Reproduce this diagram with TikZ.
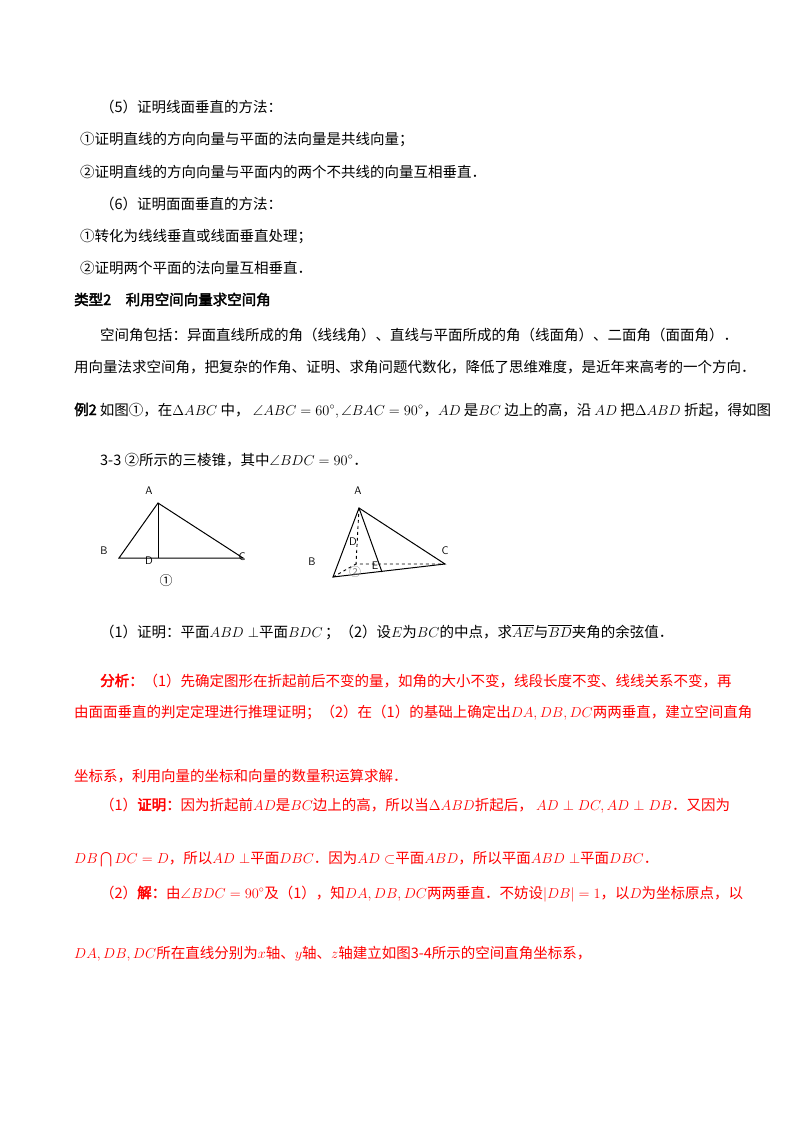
\documentclass[tikz,border=0pt]{standalone}
\usepackage{fontspec}
\usepackage{amssymb}
\setmainfont{Liberation Serif}
\newfontfamily\cjk[AutoFakeBold=2.5]{Noto Sans CJK SC}
\begin{document}
\begin{tikzpicture}[x=1pt,y=-1pt,
  tl/.style={anchor=base west,inner sep=0pt,font=\cjk\fontsize{14.5}{17}\selectfont},
  rl/.style={tl,text=red},
  lbl/.style={font=\sffamily\fontsize{11}{13}\selectfont,inner sep=0pt},
  edge/.style={line width=1pt},
  hid/.style={line width=0.9pt,dashed}]
\useasboundingbox (0,0) rectangle (800,1132);
\node[tl] (l1) at (100,112) {（5）证明线面垂直的方法：};
\node[tl] (l2) at (80,144) {①证明直线的方向向量与平面的法向量是共线向量；};
\node[tl] (l3) at (80,177) {②证明直线的方向向量与平面内的两个不共线的向量互相垂直．};
\node[tl] (l4) at (100,209) {（6）证明面面垂直的方法：};
\node[tl] (l5) at (80,241) {①转化为线线垂直或线面垂直处理；};
\node[tl] (l6) at (80,273) {②证明两个平面的法向量互相垂直．};
\node[tl] (l7) at (74,305) {\bfseries 类型2\quad 利用空间向量求空间角};
\node[tl] (l8) at (100,340) {空间角包括：异面直线所成的角（线线角）、直线与平面所成的角（线面角）、二面角（面面角）．};
\node[tl] (l9) at (74,372) {用向量法求空间角，把复杂的作角、证明、求角问题代数化，降低了思维难度，是近年来高考的一个方向．};
\node[tl] (l10) at (74,415) {\bfseries 例2\mdseries\ 如图①，在$\Delta ABC$ 中，\ $\angle ABC=60^\circ,\angle BAC=90^\circ$，$AD$ 是$BC$ 边上的高，沿 $AD$ 把$\Delta ABD$ 折起，得如图};
\node[tl] (l11) at (100,465) {3-3 ②所示的三棱锥，其中$\angle BDC=90^\circ$．};
% figure 1
\coordinate (A1) at (158,503); \coordinate (B1) at (119,558);
\coordinate (D1) at (158,558); \coordinate (C1) at (243,558);
\draw[edge] (A1) -- (B1) -- (C1) -- cycle; \draw[edge] (A1) -- (D1);
\node[lbl] (a1) at (149,491) {A}; \node[lbl] (b1) at (104,551) {B};
\node[lbl] (d1) at (149,561) {D}; \node[lbl] (c1) at (242,557) {C};
\node[font=\cjk\fontsize{13}{15}\selectfont,inner sep=0pt] (n1) at (166,581) {①};
% figure 2
\coordinate (A2) at (359,508); \coordinate (B2) at (333,577);
\coordinate (C2) at (445,564); \coordinate (D2) at (356,564);
\coordinate (E2) at (382,572);
\draw[edge] (A2) -- (B2) -- (C2) -- cycle; \draw[edge] (A2) -- (E2);
\draw[hid] (A2) -- (D2) -- (C2); \draw[hid] (B2) -- (D2);
\node[lbl] (a2) at (358,491) {A}; \node[lbl] (b2) at (312,562) {B};
\node[lbl] (d2) at (353,542) {D}; \node[lbl] (c2) at (445,551) {C};
\node[lbl] (e2) at (375,566) {E};
\node[font=\cjk\fontsize{12}{14}\selectfont,inner sep=0pt,text=gray] (n2) at (355,572) {②};
% questions
\node[tl] (q) at (100,637) {（1）证明：平面$ABD\perp$平面$BDC$\,；（2）设$E$为$BC$的中点，求$\overline{AE}$与$\overline{BD}$夹角的余弦值．};
\node[rl] (r1) at (100,686) {\bfseries 分析：\mdseries（1）先确定图形在折起前后不变的量，如角的大小不变，线段长度不变、线线关系不变，再};
\node[rl] (r2) at (74,717) {由面面垂直的判定定理进行推理证明；（2）在（1）的基础上确定出$DA,DB,DC$两两垂直，建立空间直角};
\node[rl] (r3) at (74,781) {坐标系，利用向量的坐标和向量的数量积运算求解．};
\node[rl] (r4) at (100,810) {（1）\bfseries 证明：\mdseries 因为折起前$AD$是$BC$边上的高，所以当$\Delta ABD$折起后，\ $AD\perp DC,AD\perp DB$．又因为};
\node[rl] (r5) at (74,863) {$DB\bigcap DC=D$，所以$AD\perp$平面$DBC$．因为$AD\subset$平面$ABD$，所以平面$ABD\perp$平面$DBC$．};
\node[rl] (r6) at (100,898) {（2）\bfseries 解：\mdseries 由$\angle BDC=90^\circ$及（1），知$DA,DB,DC$两两垂直．不妨设$|DB|=1$，以$D$为坐标原点，以};
\node[rl] (r7) at (74,958) {$DA,DB,DC$所在直线分别为$x$轴、$y$轴、$z$轴建立如图3-4所示的空间直角坐标系，};
\end{tikzpicture}
\end{document}
